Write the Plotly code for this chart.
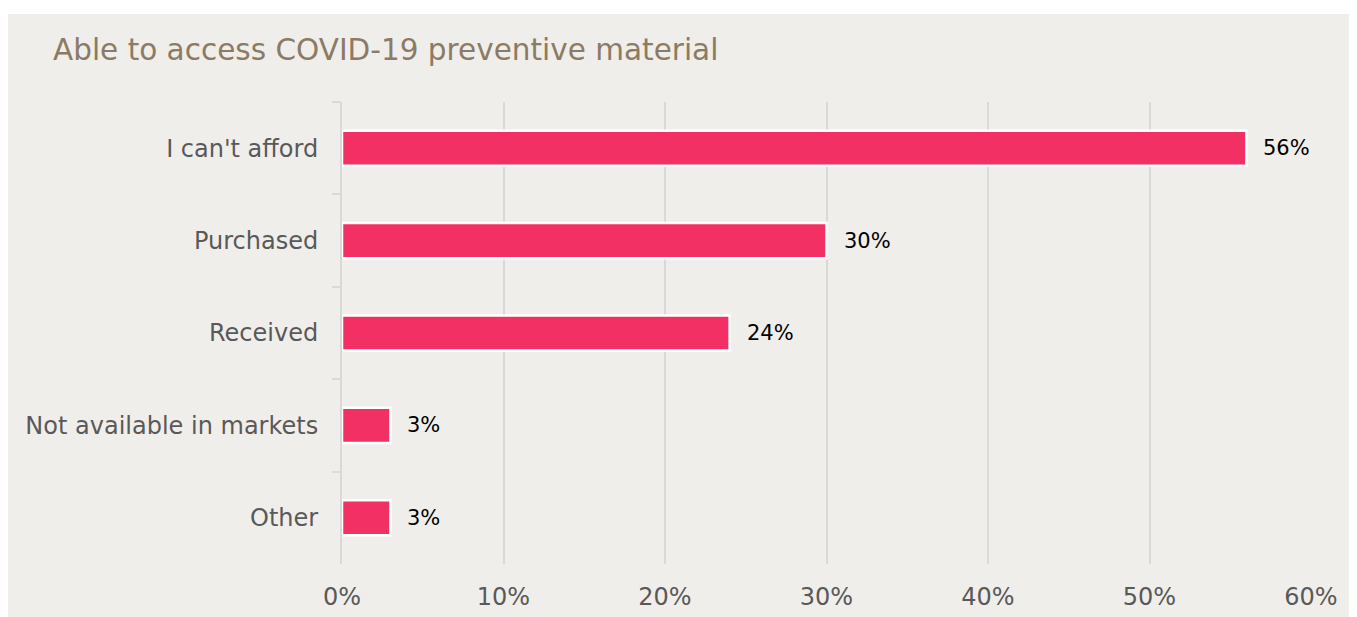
import plotly.graph_objects as go

categories = ["I can't afford", "Purchased", "Received", "Not available in markets", "Other"]
values = [56, 30, 24, 3, 3]
x_ticks = [0, 10, 20, 30, 40, 50, 60]
x_tick_labels = ["0%", "10%", "20%", "30%", "40%", "50%", "60%"]

W, H = 1357, 617
ml, mr, mt, mb = 334, 54, 94, 61
pw, ph = W - ml - mr, H - mt - mb
panel = "#f0eeea"

fig = go.Figure()
fig.add_trace(go.Bar(
    y=categories, x=values, orientation="h",
    marker=dict(color="#f33064", line=dict(color="white", width=2.5)),
    width=0.38, hoverinfo="skip", showlegend=False,
))

for c, v in zip(categories, values):
    fig.add_annotation(x=v, y=c, text=f"{v}%", showarrow=False, xanchor="left",
                       xshift=15, font=dict(family="DejaVu Sans", size=21, color="#000000"))

# white strip above the panel
fig.add_shape(type="rect", xref="paper", yref="paper", layer="below",
              x0=(0 - ml) / pw - 0.05, x1=(W - ml) / pw + 0.05,
              y0=(H - mb - 6) / ph, y1=(H - mb + 10) / ph,
              fillcolor="white", line=dict(width=0))

fig.update_layout(
    width=W, height=H,
    margin=dict(l=ml, r=mr, t=mt, b=mb, pad=0),
    paper_bgcolor=panel, plot_bgcolor="rgba(0,0,0,0)",
    bargap=0.6,
    title=dict(text="Able to access COVID-19 preventive material", x=45 / W, xanchor="left",
               y=1 - 42 / H, yanchor="middle",
               font=dict(family="DejaVu Sans", size=29.5, color="#8b7b65")),
    font=dict(family="DejaVu Sans", color="#595959"),
)
fig.update_xaxes(range=[0, 60], tickvals=x_ticks, ticktext=x_tick_labels,
                 showgrid=True, gridcolor="#d9d9d9", gridwidth=2, zeroline=False,
                 showline=False, ticks="", tickfont=dict(size=24, color="#595959"),
                 ticklabelstandoff=16, fixedrange=True)
fig.update_yaxes(autorange="reversed", showline=True, linecolor="#d9d9d9", linewidth=2,
                 ticks="outside", tickson="boundaries", ticklen=8, tickcolor="#d9d9d9", tickwidth=2,
                 tickfont=dict(size=24, color="#595959"), ticklabelstandoff=17, showgrid=False,
                 fixedrange=True)

fig.write_html("out.html")
